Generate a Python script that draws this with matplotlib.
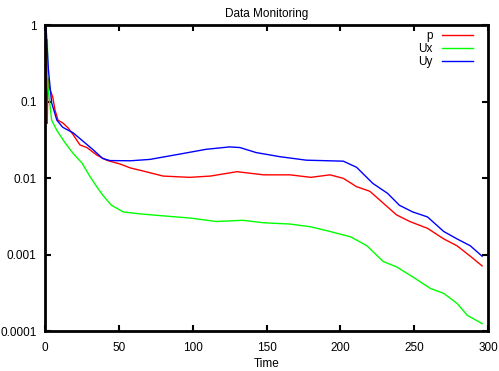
import numpy as np
import matplotlib
matplotlib.use("Agg")
from matplotlib import pyplot as plt
from matplotlib.ticker import FixedLocator, NullLocator

plt.rcParams['font.family'] = ['Liberation Sans', 'DejaVu Sans']

# residuals
t_p = [0.5, 1.1, 1.5, 2.0, 2.7, 5.2, 6.8, 8.8, 12.3, 15.7, 19, 23.7, 28.4, 35, 42,
       51, 58, 66, 80, 98, 112, 130, 148, 166, 180, 193, 202, 211, 220, 229, 238,
       247, 259, 270, 279, 288, 296]
p = [0.3, 0.52, 0.052, 0.2, 0.155, 0.115, 0.077, 0.057, 0.052, 0.045, 0.037,
     0.027, 0.025, 0.02, 0.017, 0.0152, 0.0135, 0.0124, 0.0106, 0.0102, 0.0106,
     0.0121, 0.011, 0.011, 0.0102, 0.011, 0.0099, 0.0077, 0.0067, 0.0047, 0.0033,
     0.0027, 0.0022, 0.0016, 0.0013, 0.00095, 0.00071]

t_ux = [1.6, 2, 4.5, 8, 13.5, 19, 25, 30.5, 35, 39, 45, 53, 64, 80, 98, 116, 134,
        148, 166, 180, 193, 207, 218, 229, 238, 249, 261, 270, 279, 286, 296]
ux = [0.64, 0.155, 0.057, 0.042, 0.029, 0.021, 0.0157, 0.0104, 0.0077, 0.006,
      0.0044, 0.0036, 0.0034, 0.0032, 0.003, 0.0027, 0.0028, 0.0026, 0.0025,
      0.0023, 0.002, 0.0017, 0.0013, 0.00081, 0.00069, 0.00051, 0.00036, 0.00031,
      0.00023, 0.00016, 0.000125]

t_uy = [0.7, 2.3, 4.5, 8, 12, 19, 26, 33, 39, 44, 58, 71, 91, 109, 125, 132, 143,
        159, 177, 202, 211, 222, 232, 240, 249, 259, 270, 279, 288, 296]
uy = [0.95, 0.26, 0.096, 0.057, 0.046, 0.039, 0.03, 0.023, 0.018, 0.0169, 0.0168,
      0.0175, 0.0205, 0.0237, 0.0255, 0.025, 0.0215, 0.019, 0.0171, 0.0166, 0.0138,
      0.0085, 0.0063, 0.0044, 0.0036, 0.0031, 0.002, 0.0016, 0.0013, 0.00095]

x_ticks = [0, 50, 100, 150, 200, 250, 300]
y_ticks = [0.0001, 0.001, 0.01, 0.1, 1]
y_labels = ['0.0001', '0.001', '0.01', '0.1', '1']

fig = plt.figure(figsize=(4.99, 3.71), dpi=100)
ax = fig.add_axes([0.0902, 0.1078, 0.8878, 0.8248])

ax.plot(t_p, p, color='#ff0000', lw=1.0, label='p')
ax.plot(t_ux, ux, color='#00ff00', lw=1.0, label='Ux')
ax.plot(t_uy, uy, color='#0000ff', lw=1.0, label='Uy')

ax.set_yscale('log')
ax.set_xlim(0, 300)
ax.set_ylim(0.0001, 1)
ax.xaxis.set_major_locator(FixedLocator(x_ticks))
ax.yaxis.set_major_locator(FixedLocator(y_ticks))
ax.yaxis.set_minor_locator(NullLocator())
ax.set_yticklabels(y_labels)
ax.tick_params(direction='in', length=4, width=1.5, labelsize=8.5,
               top=True, right=True)
ax.tick_params(axis='x', pad=8)
ax.tick_params(axis='y', pad=6)
for s in ax.spines.values():
    s.set_linewidth(2)

ax.set_title('Data Monitoring', fontsize=8.5, pad=6)
ax.set_xlabel('Time', fontsize=8.5, labelpad=3)

ax.legend(loc='upper right', bbox_to_anchor=(0.977, 1.0), borderaxespad=0,
          frameon=False, markerfirst=False, fontsize=8.5, handlelength=2.6,
          labelspacing=0.1, handletextpad=0.8)

fig.savefig('out.png', dpi=100)
